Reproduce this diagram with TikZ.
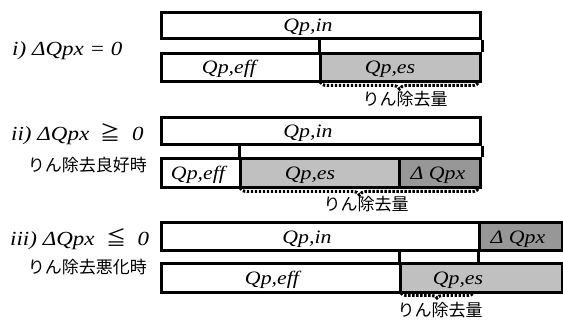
\documentclass[tikz,border=0pt]{standalone}
\usepackage{fontspec}
\setmainfont{Liberation Serif}[FakeStretch=1.15]
\newfontfamily\jp{Noto Sans CJK JP}
\usetikzlibrary{decorations.pathreplacing}
\definecolor{lg}{HTML}{C0C0C0}
\definecolor{dg}{HTML}{979797}
\tikzset{
  seg/.style={draw, line width=3pt, rectangle, inner sep=0pt, anchor=north west},
  qt/.style={anchor=base, inner sep=0pt, font=\fontsize{19}{21}\selectfont\itshape},
  lbl/.style={anchor=base west, inner sep=0pt, font=\fontsize{20}{22}\selectfont\itshape},
  jlbl/.style={inner sep=0pt, font=\fontsize{17}{19}\selectfont\jp},
  divl/.style={line width=3pt},
  dbrace/.style={decorate, decoration={brace, mirror, amplitude=7pt, aspect=0.5},
    line width=3pt, dash pattern=on 2.4pt off 1.6pt},
}
\begin{document}
\begin{tikzpicture}[x=1pt,y=-1pt]
\useasboundingbox (0,0) rectangle (563,320);
% ---------- i)
\node[seg, minimum width=319pt, minimum height=26pt] (in1) at (160,11) {};
\node[seg, minimum width=159pt, minimum height=28pt] (eff1) at (160,52) {};
\node[seg, fill=lg, minimum width=160pt, minimum height=28pt] (es1) at (319,52) {};
\draw[divl] (in1.south -| es1.west) -- (es1.north west);
\draw[divl] (in1.south east) -- (es1.north east);
\node[qt] (t_in1) at (308,32) {Qp,in};
\node[qt] (t_eff1) at (229,74) {Qp,eff};
\node[qt] (t_es1) at (390,74) {Qp,es};
\node[lbl] (l1) at (12,56) {i) ΔQpx = 0};
\coordinate (b1a) at (320,82);
\coordinate (b1b) at (479,82);
\draw[dbrace] (b1a) -- (b1b);
\node[jlbl] (r1) at (405,99) {りん除去量};
% ---------- ii)
\node[seg, minimum width=319pt, minimum height=27pt] (in2) at (160,116) {};
\node[seg, minimum width=79pt, minimum height=29pt] (eff2) at (160,157) {};
\node[seg, fill=lg, minimum width=159pt, minimum height=29pt] (es2) at (239,157) {};
\node[seg, fill=dg, minimum width=81pt, minimum height=29pt] (dq2) at (398,157) {};
\draw[divl] (in2.south -| es2.west) -- (es2.north west);
\draw[divl] (in2.south east) -- (dq2.north east);
\node[qt] (t_in2) at (308,138) {Qp,in};
\node[qt] (t_eff2) at (198,180) {Qp,eff};
\node[qt] (t_es2) at (310,180) {Qp,es};
\node[qt] (t_dq2) at (438,180) {Δ Qpx};
\node[lbl] (l2) at (11,141) {ii) ΔQpx\ \ {\upshape\jp ≧}\ \ 0};
\node[jlbl, anchor=east] (g2) at (147,165) {りん除去良好時};
\coordinate (b2a) at (240,188);
\coordinate (b2b) at (479,188);
\draw[dbrace] (b2a) -- (b2b);
\node[jlbl] (r2) at (366,204) {りん除去量};
% ---------- iii)
\node[seg, minimum width=318pt, minimum height=28pt] (in3) at (160,221) {};
\node[seg, fill=dg, minimum width=83pt, minimum height=28pt] (dq3) at (478,221) {};
\node[seg, minimum width=239pt, minimum height=29pt] (eff3) at (160,262) {};
\node[seg, fill=lg, minimum width=162pt, minimum height=29pt] (es3) at (399,262) {};
\draw[divl] (in3.south -| es3.west) -- (es3.north west);
\draw[divl] (dq3.south west) -- (dq3.south west |- es3.north);
\draw[divl] (dq3.south east) -- (es3.north east);
\node[qt] (t_in3) at (307,244) {Qp,in};
\node[qt] (t_dq3) at (518,244) {Δ Qpx};
\node[qt] (t_eff3) at (272,285) {Qp,eff};
\node[qt] (t_es3) at (458,285) {Qp,es};
\node[lbl] (l3) at (10,246) {iii) ΔQpx\ \ {\upshape\jp ≦}\ \ 0};
\node[jlbl, anchor=east] (g3) at (147,267) {りん除去悪化時};
\coordinate (b3a) at (401,293);
\coordinate (b3b) at (473,293);
\draw[dbrace, decoration={brace, mirror, amplitude=5pt, aspect=0.5}] (b3a) -- (b3b);
\node[jlbl] (r3) at (440,310) {りん除去量};
\end{tikzpicture}
\end{document}
